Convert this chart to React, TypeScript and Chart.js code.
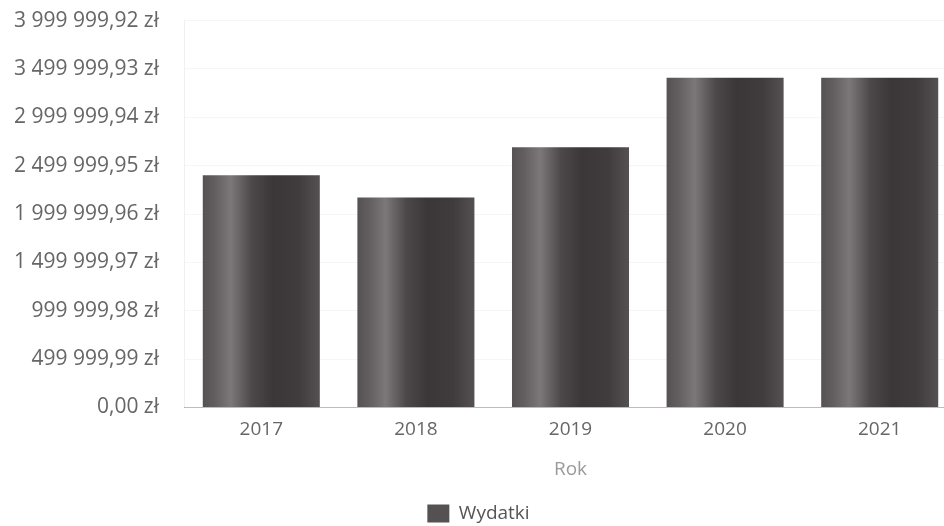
import React, { useEffect, useRef } from "react";
import { Chart, registerables } from "chart.js";

Chart.register(...registerables);

const categories = ["2017", "2018", "2019", "2020", "2021"];
const seriesLabel = "Wydatki";
const wydatki = [2400000, 2170000, 2690000, 3410000, 3410000];
const yTickValues = [
  0, 499999.99, 999999.98, 1499999.97, 1999999.96, 2499999.95, 2999999.94,
  3499999.93, 3999999.92,
];
const xTitle = "Rok";

function formatPLN(v: number): string {
  const s = Math.abs(v).toFixed(2);
  const [intPart, dec] = s.split(".");
  const grouped = intPart.replace(/\B(?=(\d{3})+(?!\d))/g, " ");
  return (v < 0 ? "-" : "") + grouped + "," + dec + " zł";
}

const FONT = "'Open Sans', 'DejaVu Sans', sans-serif";

export default function App() {
  const ref = useRef<HTMLCanvasElement | null>(null);

  useEffect(() => {
    if (!ref.current) return;
    const barFill = (ctx: any) => {
      const chart = ctx.chart;
      if (ctx.type !== "data" || ctx.dataIndex === undefined || !chart.chartArea) {
        return "#4a4647";
      }
      const xs = chart.scales.x;
      const cx = xs.getPixelForValue(ctx.dataIndex);
      const catW = (xs.right - xs.left) / categories.length;
      const half = (catW * 0.757) / 2;
      const g = chart.ctx.createLinearGradient(cx - half, 0, cx + half, 0);
      g.addColorStop(0, "#565253");
      g.addColorStop(0.1, "#625e5f");
      g.addColorStop(0.24, "#7c7779");
      g.addColorStop(0.42, "#4c4748");
      g.addColorStop(0.6, "#3b3738");
      g.addColorStop(0.82, "#403b3c");
      g.addColorStop(1, "#555152");
      return g;
    };

    const chart = new Chart(ref.current, {
      type: "bar",
      data: {
        labels: categories,
        datasets: [
          {
            label: seriesLabel,
            data: wydatki,
            backgroundColor: barFill,
            borderWidth: 0,
            barPercentage: 1,
            categoryPercentage: 0.757,
          },
        ],
      },
      options: {
        animation: false,
        responsive: true,
        maintainAspectRatio: false,
        layout: { padding: { top: 9, left: 0, right: 0, bottom: 0 } },
        plugins: {
          tooltip: { enabled: false },
          legend: {
            position: "bottom",
            labels: {
              boxWidth: 22,
              boxHeight: 18,
              color: "#555",
              font: { family: FONT, size: 19 },
            },
          },
        },
        scales: {
          x: {
            grid: { display: false, drawTicks: true },
            border: { display: true, color: "#bdbdbd" },
            ticks: {
              color: "#666",
              font: { family: FONT, size: 19 },
              padding: 3,
            },
            title: {
              display: true,
              text: xTitle,
              color: "#9a9a9a",
              font: { family: FONT, size: 19 },
              padding: { top: 14, bottom: 13 },
            },
          },
          y: {
            min: 0,
            max: 3999999.92,
            afterBuildTicks: (scale: any) => {
              scale.ticks = yTickValues.map((v) => ({ value: v }));
            },
            afterFit: (scale: any) => {
              scale.width = 184;
            },
            grid: {
              color: "rgba(0,0,0,0.035)",
              drawTicks: false,
            },
            border: { display: true, color: "rgba(0,0,0,0.06)" },
            ticks: {
              color: "#666",
              font: { family: FONT, size: 21 },
              padding: 25,
              callback: (v: any) => formatPLN(Number(v)),
            },
          },
        },
      },
    });
    return () => chart.destroy();
  }, []);

  return (
    <div
      style={{
        position: "fixed",
        left: 0,
        top: -17,
        width: 957,
        height: 550,
        background: "#fff",
      }}
    >
      <canvas ref={ref} />
    </div>
  );
}
